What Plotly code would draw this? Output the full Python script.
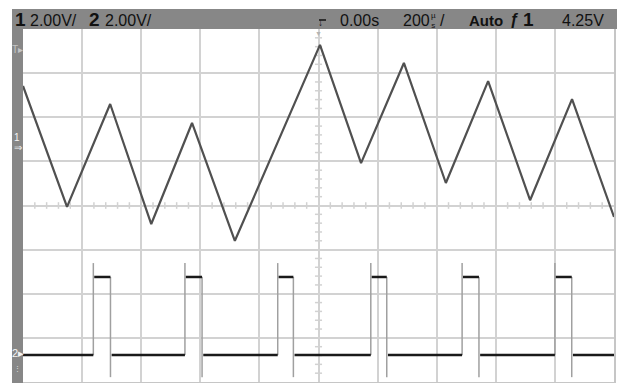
import numpy as np
import plotly.graph_objects as go

# ---- scope settings ----
TIME_PER_DIV_US = 200          # 200 us/div
VOLTS_PER_DIV = 2.0            # both channels 2.00 V/div
CH1_OFFSET_DIV = 1.35          # channel 1 ground marker, divisions above centre
CH2_OFFSET_DIV = -3.39         # channel 2 ground marker, divisions below centre

# ---- channel 1: triangle wave, vertex times (us) and voltages (V) ----
ch1_t = [-1000, -851, -705, -566, -428, -283, 5, 144, 289, 431, 574, 716, 858, 1000]
ch1_v = [2.72, -2.76, 1.90, -3.54, 1.04, -4.30, 4.58, -0.78, 3.76, -1.68, 2.94, -2.46, 2.12, -3.22]

# ---- channel 2: pulse train edges (us) and levels (V) ----
ch2_rise = [-762, -452, -138, 177, 486, 800]
ch2_fall = [-704, -394, -85, 231, 543, 857]
ch2_low = 0.0
ch2_high = 3.54
ch2_overshoot = 4.17
ch2_undershoot = -1.0


def ch1_div(v):
    return v / VOLTS_PER_DIV + CH1_OFFSET_DIV


def ch2_div(v):
    return v / VOLTS_PER_DIV + CH2_OFFSET_DIV


# plot-area pixel frame (for header / side-bar decorations)
W, H = 617, 383
PL, PR, PT, PB = 23, 614, 29, 382


def px(x):
    return (x - PL) / (PR - PL)


def py(y):
    return (PB - y) / (PB - PT)


fig = go.Figure()

# channel 1 trace
fig.add_trace(go.Scatter(
    x=ch1_t, y=[ch1_div(v) for v in ch1_v], mode="lines",
    line=dict(color="#505050", width=2.2), hoverinfo="skip"))

# channel 2: fast edges drawn thin and light
ex, ey = [], []
for r, f in zip(ch2_rise, ch2_fall):
    ex += [r, r, None, f, f, None]
    ey += [ch2_div(ch2_low), ch2_div(ch2_overshoot), None,
           ch2_div(ch2_high), ch2_div(ch2_undershoot), None]
fig.add_trace(go.Scatter(x=ex, y=ey, mode="lines",
                         line=dict(color="#a0a0a0", width=1.5), hoverinfo="skip"))

# channel 2: settled low/high levels drawn heavy
lx, ly = [], []
prev = -1000
for r, f in zip(ch2_rise, ch2_fall):
    lx += [prev, r, None, r + 3, f, None]
    ly += [ch2_div(ch2_low), ch2_div(ch2_low), None,
           ch2_div(ch2_high), ch2_div(ch2_high), None]
    prev = f + 4
lx += [prev, 1000]
ly += [ch2_div(ch2_low), ch2_div(ch2_low)]
fig.add_trace(go.Scatter(x=lx, y=ly, mode="lines",
                         line=dict(color="#1a1a1a", width=2.5), hoverinfo="skip"))

shapes = []
GRID = "#d2d2d2"
# minor ticks along the centre axes
for k in range(-25, 26):
    if k % 5:
        t = k * TIME_PER_DIV_US / 5
        shapes.append(dict(type="line", xref="x", yref="y", x0=t, x1=t,
                           y0=-0.075, y1=0.075, line=dict(color=GRID, width=1.5),
                           layer="below"))
for k in range(-20, 21):
    if k % 5:
        d = k / 5
        shapes.append(dict(type="line", xref="x", yref="y", x0=-12, x1=12,
                           y0=d, y1=d, line=dict(color=GRID, width=1.5),
                           layer="below"))

# header bar and left marker bar
shapes.append(dict(type="rect", xref="paper", yref="paper",
                   x0=px(12), x1=px(617), y0=py(29), y1=py(9),
                   fillcolor="#878787", line=dict(width=0), layer="above"))
shapes.append(dict(type="rect", xref="paper", yref="paper",
                   x0=px(12), x1=px(23), y0=py(383), y1=py(9),
                   fillcolor="#878787", line=dict(width=0), layer="above"))
# trigger-position glyph bar
shapes.append(dict(type="line", xref="paper", yref="paper",
                   x0=px(319), x1=px(326), y0=py(20), y1=py(20),
                   line=dict(color="#111", width=1.5), layer="above"))

FONT = "Liberation Sans, Arial, sans-serif"
ann = []


def label(x, y, text, size=16, color="#111", bold=False, xanchor="left"):
    ann.append(dict(xref="paper", yref="paper", x=px(x), y=py(y), text=f"<b>{text}</b>" if bold else text,
                    showarrow=False, xanchor=xanchor, yanchor="middle", borderpad=0,
                    font=dict(family=FONT, size=size, color=color)))


label(14, 19.5, "1", size=19, bold=True)
label(29, 20, "2.00V/")
label(88, 19.5, "2", size=19, bold=True)
label(104, 20, "2.00V/")
label(320, 23, "↓", size=10, bold=True, xanchor="center")
label(339, 20, "0.00s")
label(402, 20, "200")
label(433, 20, "µ<br>s", size=8, xanchor="center")
label(439, 20, "/")
label(468, 20, "Auto", size=15, bold=True)
label(509, 19.5, "ƒ", size=16, bold=True)
label(522, 19.5, "1", size=19, bold=True)
label(561, 20, "4.25V")

# side-bar markers
label(17.5, 49, "T▸", size=10, color="#c4c4c4", xanchor="center")
label(17, 137, "1", size=10, color="#f4f4f4", xanchor="center")
label(17.5, 147, "⇒", size=10, color="#f4f4f4", xanchor="center")
label(17.5, 353, "2▸", size=11, color="#f4f4f4", xanchor="center")
label(17, 368, "⋮", size=7, color="#e0e0e0", xanchor="center")
# trigger marker at top of graticule
label(318.5, 33.5, "▼", size=7, color="#b4b4b4", xanchor="center")

fig.update_layout(
    width=W, height=H, autosize=False,
    margin=dict(l=PL, r=W - PR, t=PT, b=H - PB, pad=0),
    paper_bgcolor="white", plot_bgcolor="white",
    showlegend=False, shapes=shapes, annotations=ann,
    xaxis=dict(range=[-1000, 1000], dtick=TIME_PER_DIV_US, tick0=0,
               showgrid=True, gridcolor=GRID, gridwidth=2,
               zeroline=True, zerolinecolor=GRID, zerolinewidth=1.5,
               showticklabels=False, ticks="", showline=True, mirror=True,
               linecolor="#c6c6c6", linewidth=2, fixedrange=True),
    yaxis=dict(range=[-4, 4], dtick=1, tick0=0,
               showgrid=True, gridcolor=GRID, gridwidth=2,
               zeroline=True, zerolinecolor=GRID, zerolinewidth=1.5,
               showticklabels=False, ticks="", showline=True, mirror=True,
               linecolor="#c6c6c6", linewidth=2, fixedrange=True),
)

fig.write_html("out.html", config={"displayModeBar": False})
